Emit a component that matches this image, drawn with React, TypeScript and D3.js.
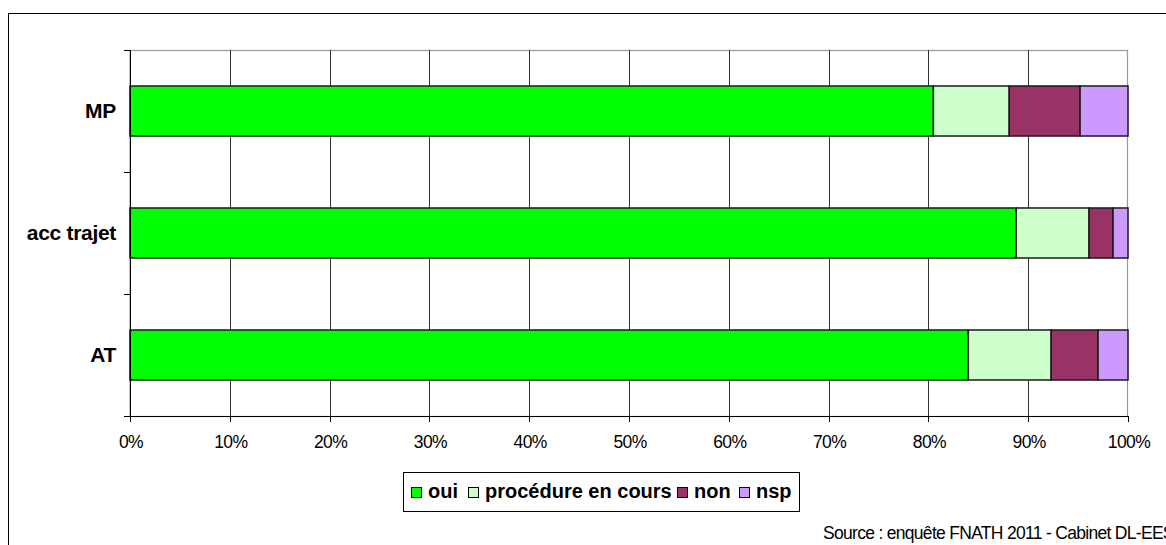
import React, { useEffect, useRef } from "react";
import * as d3 from "d3";

const categories = ["MP", "acc trajet", "AT"];
const seriesNames = ["oui", "procédure en cours", "non", "nsp"];
const seriesColors = ["#00FF00", "#CCFFCC", "#993366", "#CC99FF"];
const oui = [80.5, 88.8, 84.0];
const procedure = [7.6, 7.3, 8.3];
const non = [7.1, 2.4, 4.7];
const nsp = [4.8, 1.5, 3.0];
const xTicks = [0, 10, 20, 30, 40, 50, 60, 70, 80, 90, 100];
const sourceText = "Source : enquête FNATH 2011 - Cabinet DL-EES";

export default function App() {
  const ref = useRef<SVGSVGElement>(null);
  useEffect(() => {
    const svg = d3.select(ref.current);
    svg.selectAll("*").remove();
    const W = 1166, H = 545;
    const left = 130, right = 1128, top = 50, bottom = 416;
    const font = "Arial, 'Liberation Sans', sans-serif";

    // outer frame
    svg.append("rect").attr("x", 8.5).attr("y", 13.5).attr("width", W + 20).attr("height", H + 20)
      .attr("fill", "white").attr("stroke", "#000").attr("stroke-width", 1);

    const x = d3.scaleLinear().domain([0, 100]).range([left, right]);
    const y = d3.scaleBand().domain(categories).range([top, bottom]).paddingInner(0.59).paddingOuter(0.295);
    const yb = d3.scaleBand().domain(categories).range([top, bottom]);

    // plot border (gray)
    svg.append("rect").attr("x", left).attr("y", top + 0.5).attr("width", right - left - 0.5).attr("height", bottom - top)
      .attr("fill", "none").attr("stroke", "#999").attr("stroke-width", 1.2);

    // grid
    svg.append("g").selectAll("line").data(xTicks.slice(1, -1)).join("line")
      .attr("x1", d => Math.round(x(d)) + 0.5).attr("x2", d => Math.round(x(d)) + 0.5)
      .attr("y1", top).attr("y2", bottom).attr("stroke", "#333").attr("stroke-width", 1);

    // stacked data
    const rows = categories.map((c, i) => ({ cat: c, oui: oui[i], procedure: procedure[i], non: non[i], nsp: nsp[i] }));
    const keys = ["oui", "procedure", "non", "nsp"];
    const stacked = d3.stack<any>().keys(keys)(rows);
    stacked.forEach((s, si) => {
      svg.append("g").selectAll("rect").data(s).join("rect")
        .attr("x", d => x(d[0])).attr("width", d => x(d[1]) - x(d[0]))
        .attr("y", d => y(d.data.cat)!).attr("height", y.bandwidth())
        .attr("fill", seriesColors[si]).attr("stroke", "#1a1a1a").attr("stroke-width", 1.5);
    });

    // axes lines
    svg.append("line").attr("x1", left + 0.5).attr("x2", left + 0.5).attr("y1", top).attr("y2", bottom)
      .attr("stroke", "#000").attr("stroke-width", 1);
    svg.append("line").attr("x1", left - 6).attr("x2", right).attr("y1", bottom + 0.5).attr("y2", bottom + 0.5)
      .attr("stroke", "#000").attr("stroke-width", 1);
    // y ticks at band boundaries
    const yBounds = [top, ...categories.map(c => yb(c)! + yb.bandwidth())];
    svg.append("g").selectAll("line").data(yBounds).join("line")
      .attr("x1", left - 6).attr("x2", left).attr("y1", d => Math.round(d) + 0.5).attr("y2", d => Math.round(d) + 0.5)
      .attr("stroke", "#000");
    // x ticks
    svg.append("g").selectAll("line").data(xTicks).join("line")
      .attr("x1", d => Math.round(x(d)) + 0.5).attr("x2", d => Math.round(x(d)) + 0.5)
      .attr("y1", bottom).attr("y2", bottom + 6).attr("stroke", "#000");
    svg.append("g").selectAll("text").data(xTicks).join("text")
      .attr("x", d => x(d) + 1).attr("y", 448).attr("text-anchor", "middle")
      .attr("font-family", font).attr("font-size", 17.5).attr("letter-spacing", -0.6).attr("fill", "#000")
      .text(d => d + "%");

    // category labels
    svg.append("g").selectAll("text").data(categories).join("text")
      .attr("x", 116).attr("y", d => yb(d)! + yb.bandwidth() / 2 + 7).attr("text-anchor", "end")
      .attr("font-family", font).attr("font-size", 21).attr("font-weight", "bold").attr("letter-spacing", -0.3)
      .attr("fill", "#000").text(d => d);

    // legend
    const lg = svg.append("g");
    lg.append("rect").attr("x", 403.5).attr("y", 472.5).attr("width", 396).attr("height", 39)
      .attr("fill", "white").attr("stroke", "#000").attr("stroke-width", 1);
    const itemX = [411, 468, 677, 739];
    seriesNames.forEach((n, i) => {
      lg.append("rect").attr("x", itemX[i] + 0.5).attr("y", 487.5).attr("width", 10).attr("height", 10)
        .attr("fill", seriesColors[i]).attr("stroke", "#000").attr("stroke-width", 1);
      lg.append("text").attr("x", itemX[i] + 17).attr("y", 498)
        .attr("font-family", font).attr("font-size", 20).attr("font-weight", "bold")
        .attr("fill", "#000").text(n);
    });

    // source
    svg.append("text").attr("x", 823).attr("y", 539).attr("font-family", font).attr("font-size", 17.5)
      .attr("letter-spacing", -0.7).attr("fill", "#000").text(sourceText);
  }, []);
  return (
    <svg ref={ref} width={1166} height={545}
      style={{ position: "absolute", left: 0, top: 0, background: "white" }} />
  );
}
